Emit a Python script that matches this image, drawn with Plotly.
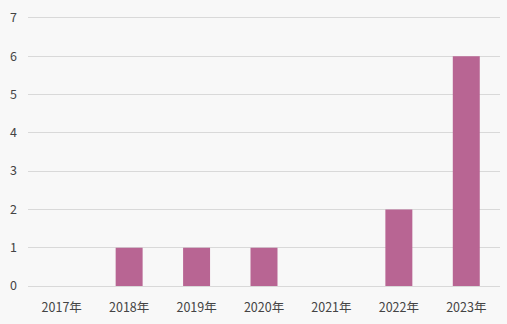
import plotly.graph_objects as go

years = ["2017年", "2018年", "2019年", "2020年", "2021年", "2022年", "2023年"]
counts = [0, 1, 1, 1, 0, 2, 6]
y_ticks = [0, 1, 2, 3, 4, 5, 6, 7]

fig = go.Figure(
    go.Bar(
        x=years,
        y=counts,
        marker=dict(color="#b86593", line=dict(width=0)),
        hoverinfo="x+y",
    )
)

fig.update_layout(
    width=507,
    height=324,
    margin=dict(l=28, r=7, t=9, b=38),
    paper_bgcolor="#f8f8f8",
    plot_bgcolor="#f8f8f8",
    bargap=0.6,
    showlegend=False,
    font=dict(family="Noto Sans CJK JP", size=12.5, color="#444444"),
    xaxis=dict(
        showgrid=False,
        showline=False,
        ticks="",
        ticklabelstandoff=12,
        tickfont=dict(size=12.5, color="#444444"),
    ),
    yaxis=dict(
        range=[0, 7.1],
        tickvals=y_ticks,
        showgrid=True,
        gridcolor="#d9d9d9",
        gridwidth=1,
        zeroline=True,
        zerolinecolor="#d9d9d9",
        zerolinewidth=1,
        showline=False,
        ticks="",
        ticklabelstandoff=10,
        tickfont=dict(size=12.5, color="#444444"),
    ),
)

fig.write_html("out.html")
